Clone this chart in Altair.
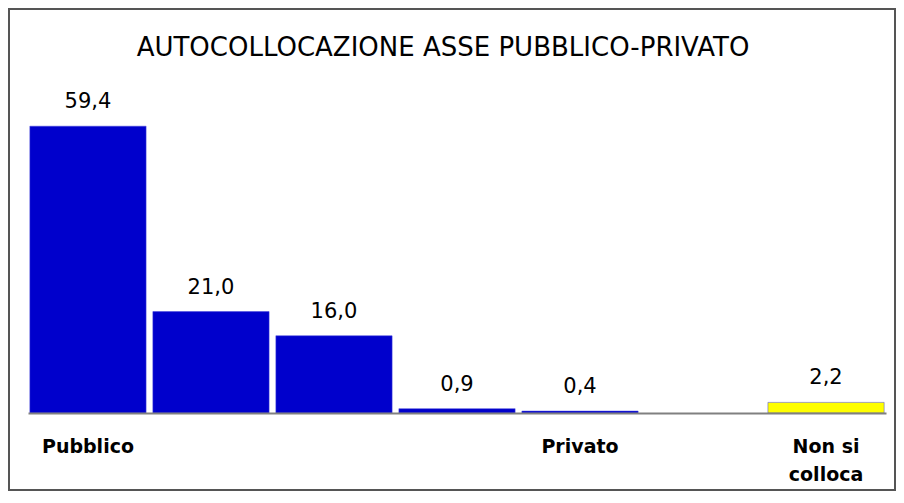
import altair as alt
import pandas as pd

chart_title = "AUTOCOLLOCAZIONE ASSE PUBBLICO-PRIVATO"
categories = ["Pubblico", "2", "3", "4", "Privato", "6", "Non si colloca"]
tick_labels = ["Pubblico", "", "", "", "Privato", "", "Non si\ncolloca"]
values = [59.4, 21.0, 16.0, 0.9, 0.4, None, 2.2]
bar_colors = ["#0000CC", "#0000CC", "#0000CC", "#0000CC", "#0000CC", None, "#FFFF00"]

rows = [
    dict(cat=c, val=v, lab=f"{v:.1f}".replace(".", ","), col=k)
    for c, v, k in zip(categories, values, bar_colors)
    if v is not None
]
df = pd.DataFrame(rows)

expr = "''"
for c, t in zip(categories, tick_labels):
    arr = "[" + ",".join("'" + p + "'" for p in t.split("\n")) + "]"
    expr = f"datum.value === '{c}' ? {arr} : ({expr})"

FONT = "DejaVu Sans"

x = alt.X(
    "cat:N",
    sort=categories,
    scale=alt.Scale(domain=categories, paddingInner=0.055, paddingOuter=0.015),
    axis=alt.Axis(
        title=None,
        labelAngle=0,
        labelExpr=expr,
        ticks=False,
        domainColor="#808080",
        domainWidth=2,
        labelFont=FONT,
        labelFontWeight="bold",
        labelFontSize=19,
        labelPadding=24,
        labelLineHeight=28,
        labelColor="black",
        zindex=1,
    ),
)
y = alt.Y("val:Q", scale=alt.Scale(domain=[0, 70]), axis=None)

base = alt.Chart(df)
bars = base.mark_bar(stroke="#4444dd", strokeWidth=0.5).encode(
    x=x, y=y, color=alt.Color("col:N", scale=None)
)
text = base.mark_text(
    dy=-18, baseline="alphabetic", fontSize=21, font=FONT, color="black"
).encode(x=x, y=y, text="lab:N")

title_mark = alt.Chart(alt.Data(values=[{}])).mark_text(
    text=chart_title,
    font=FONT,
    fontSize=26,
    baseline="alphabetic",
    align="center",
    color="black",
).encode(x=alt.value(415), y=alt.value(-19))

border = alt.Chart(alt.Data(values=[{}])).mark_rect(
    filled=False, stroke="#555555", strokeWidth=2
).encode(
    x=alt.value(-19), x2=alt.value(867), y=alt.value(-66), y2=alt.value(415)
)

chart = (
    alt.layer(bars, text, title_mark, border)
    .properties(
        width=858,
        height=338,
        autosize=alt.AutoSizeParams(type="none"),
        padding={"left": 20, "top": 67, "right": 10, "bottom": 78},
    )
    .configure_view(stroke=None)
)

chart.save("out.html", embed_options={"renderer": "svg", "actions": False})
